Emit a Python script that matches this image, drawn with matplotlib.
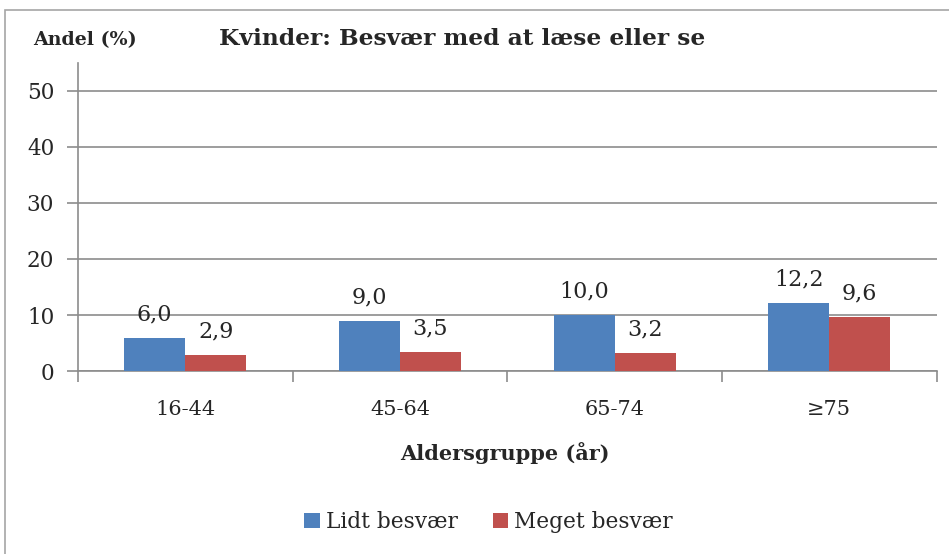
import matplotlib.pyplot as plt
import numpy as np
from matplotlib.patches import Rectangle

plt.rcParams['font.family'] = ['DejaVu Serif']

kategorier = ['16-44', '45-64', '65-74', '≥75']
lidt = [6.0, 9.0, 10.0, 12.2]
meget = [2.9, 3.5, 3.2, 9.6]
serier = ['Lidt besvær', 'Meget besvær']
farver = ['#4F81BD', '#C0504D']
GRAA = '#8c8c8c'
TEKST = '#262626'

fig = plt.figure(figsize=(9.49, 5.54), dpi=100)
ax = fig.add_axes([0.082, 0.330, 0.905, 0.557])

# ramme rundt om hele figuren
fig.patches.append(Rectangle((5 / 949, -0.1), 1.2, 1.1 - 10 / 554,
                             transform=fig.transFigure, fill=False,
                             edgecolor='#a6a6a6', linewidth=1.2))

x = np.arange(len(kategorier))
b = 0.284
s1 = ax.bar(x - b / 2, lidt, b, color=farver[0], label=serier[0], zorder=3)
s2 = ax.bar(x + b / 2, meget, b, color=farver[1], label=serier[1], zorder=3)

for bars, vals in [(s1, lidt), (s2, meget)]:
    for r, v in zip(bars, vals):
        ax.annotate(f'{v:.1f}'.replace('.', ','),
                    (r.get_x() + r.get_width() / 2, r.get_height()),
                    xytext=(0, 9), textcoords='offset points',
                    ha='center', va='bottom', fontsize=16, color=TEKST)

ax.set_xlim(-0.5, len(kategorier) - 0.5)
ax.set_ylim(0, 55)
ax.set_yticks(range(0, 51, 10))
ax.yaxis.grid(True, color=GRAA, linewidth=1.2, zorder=0)
ax.set_axisbelow(True)

ax.set_xticks(x)
ax.set_xticklabels(kategorier, fontsize=15, color=TEKST)
ax.set_xticks(np.arange(-0.5, len(kategorier)), minor=True)
ax.tick_params(axis='x', which='major', length=0, pad=21)
ax.tick_params(axis='x', which='minor', length=8, color=GRAA, width=1.2)
ax.tick_params(axis='y', length=8, color=GRAA, width=1.2, labelsize=15.5,
               labelcolor=TEKST, pad=9)

for side in ['top', 'right']:
    ax.spines[side].set_visible(False)
ax.spines['left'].set_color(GRAA)
ax.spines['bottom'].set_color(GRAA)
ax.spines['left'].set_linewidth(1.2)
ax.spines['bottom'].set_linewidth(1.2)

fig.text(0.487, 0.93, 'Kvinder: Besvær med at læse eller se', ha='center',
         va='center', fontsize=16.8, fontweight='bold', color=TEKST)
fig.text(0.035, 0.928, 'Andel (%)', ha='left', va='center', fontsize=13.7,
         fontweight='bold', color=TEKST)
fig.text(0.532, 0.183, 'Aldersgruppe (år)', ha='center', va='center',
         fontsize=15, fontweight='bold', color=TEKST)

fig.legend(handles=[s1, s2], loc='center', bbox_to_anchor=(0.515, 0.057),
           ncol=2, frameon=False, fontsize=15.6, handlelength=0.7,
           handleheight=0.7, columnspacing=1.6, handletextpad=0.3,
           labelcolor=TEKST)

fig.savefig('out.png', dpi=100)
